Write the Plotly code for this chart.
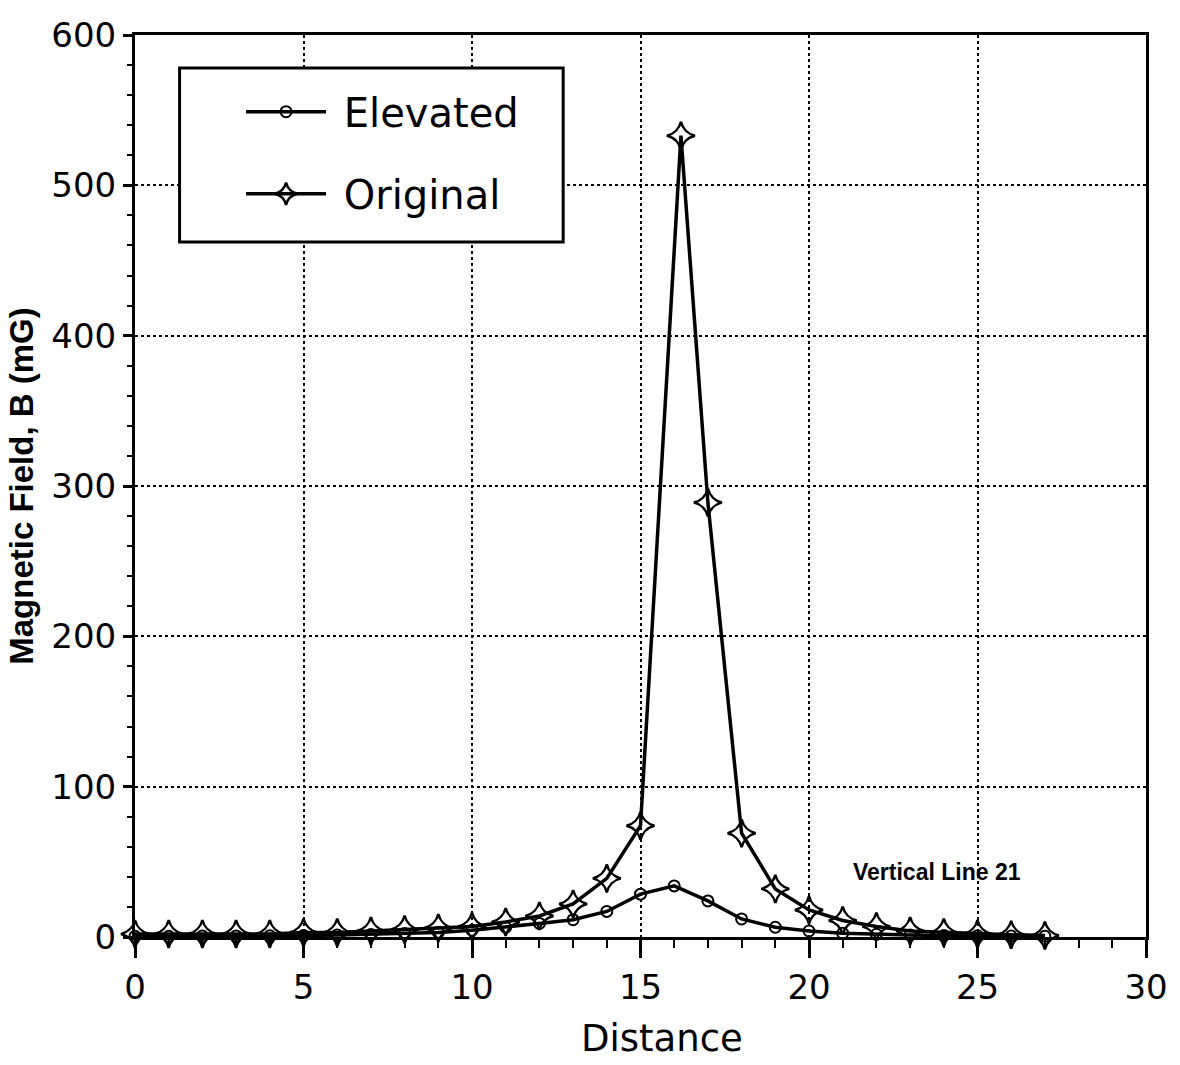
import plotly.graph_objects as go

# Data
elev_x = list(range(0, 28))
elev_y = [0.5, 0.5, 0.6, 0.7, 0.8, 1, 1.3, 1.7, 2.3, 3, 4.5, 6.5, 9, 11.5, 17, 28.5, 34, 24, 12, 6.5, 4, 2.5, 1.8, 1.3, 1, 0.8, 0.6, 0.5]
orig_x = list(range(0, 16)) + [16.2] + list(range(17, 28))
orig_y = [2, 2, 2, 2, 2, 3, 3, 4, 5, 6, 7, 10, 14, 22, 39, 74, 533, 289, 69, 32, 18, 11, 7, 4, 3, 2, 1.5, 1]

xticks = [0, 5, 10, 15, 20, 25, 30]
yticks = [0, 100, 200, 300, 400, 500, 600]

FONT = "DejaVu Sans"

fig = go.Figure()
fig.add_trace(go.Scatter(
    x=elev_x, y=elev_y, name="\u00a0Elevated", mode="lines+markers", legendgroup="a",
    line=dict(color="black", width=3.5),
    marker=dict(symbol="circle-open", size=11, color="black", line=dict(width=2)),
    cliponaxis=False,
))
fig.add_trace(go.Scatter(
    x=orig_x, y=orig_y, name="\u00a0Original", mode="lines+markers", legendgroup="b",
    line=dict(color="black", width=3.5),
    marker=dict(symbol="star-diamond-open", size=20, color="black", line=dict(width=2.5)),
    cliponaxis=False,
))

fig.add_annotation(
    x=23.8, y=43, xref="x", yref="y", text="<b>Vertical Line 21</b>", showarrow=False,
    font=dict(family="Liberation Sans", size=23, color="black"),
    xanchor="center", yanchor="middle",
)

# x-axis title (placed as in the original, slightly right of centre)
fig.add_annotation(
    x=0.5216, y=-0.1385, xref="paper", yref="paper", text="Distance", showarrow=False,
    font=dict(family=FONT, size=37, color="black"), xanchor="center", yanchor="bottom",
)

# legend frame
fig.add_shape(type="rect", xref="paper", yref="paper",
              x0=0.0441, x1=0.4235, y0=0.7705, y1=0.9634,
              line=dict(color="black", width=3), fillcolor="white", layer="above")

axis_common = dict(
    showline=True, linecolor="black", linewidth=3, mirror=True,
    showgrid=True, gridcolor="black", gridwidth=2, griddash="dot",
    ticks="outside", tickwidth=3, tickcolor="black",
    zeroline=False,
    tickfont=dict(family=FONT, size=34, color="black"),
)

fig.update_xaxes(
    range=[0, 30], tickvals=xticks, ticktext=[str(v) for v in xticks], ticklen=18,
    minor=dict(dtick=1, tick0=0, ticks="outside", ticklen=8, tickwidth=2, tickcolor="black", showgrid=False),
    **axis_common,
)
fig.update_yaxes(
    range=[0, 600], tickvals=yticks, ticktext=[str(v) for v in yticks], ticklen=9,
    title=dict(text="<b>Magnetic Field, B (mG)</b>", font=dict(family="Liberation Sans", size=33, color="black"), standoff=8),
    minor=dict(dtick=20, tick0=0, ticks="outside", ticklen=5, tickwidth=2, tickcolor="black", showgrid=False),
    ticklabelstandoff=0,
    **axis_common,
)

fig.update_layout(
    width=1180, height=1065,
    margin=dict(l=135, r=25, t=35, b=128),
    paper_bgcolor="white", plot_bgcolor="white",
    showlegend=True,
    legend=dict(
        x=0.1049, y=0.951, xanchor="left", yanchor="top",
        bgcolor="rgba(0,0,0,0)", borderwidth=0,
        font=dict(family=FONT, size=40, color="black"),
        itemwidth=80, tracegroupgap=27,
    ),
)

fig.write_html("out.html")
